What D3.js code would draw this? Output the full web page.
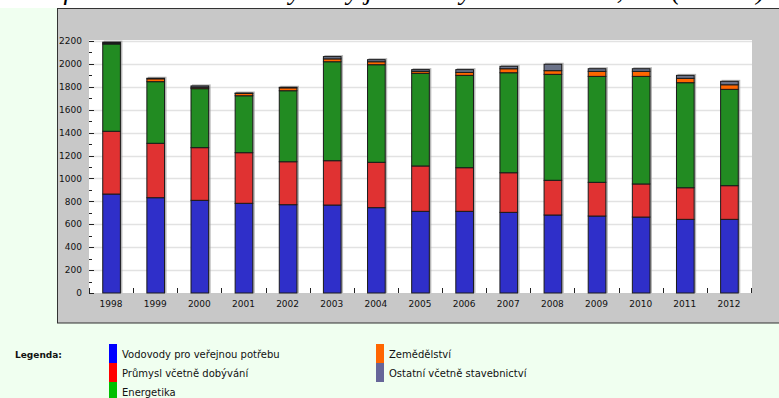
<!DOCTYPE html>
<html><head><meta charset="utf-8">
<script src="https://cdn.jsdelivr.net/npm/d3@7"></script>
<style>
html,body{margin:0;padding:0;background:#fff;}
svg{display:block;}
</style></head>
<body>
<svg id="c" width="779" height="398"></svg>
<script>
const years = ["1998","1999","2000","2001","2002","2003","2004","2005","2006","2007","2008","2009","2010","2011","2012"];
const vodovody = [864, 832, 809, 783, 771, 768, 745, 713, 713, 704, 681, 672, 663, 643, 643];
const prumysl  = [548, 475, 460, 442, 375, 387, 396, 396, 381, 346, 303, 294, 289, 276, 294];
const energetika = [762, 538, 515, 497, 620, 864, 852, 809, 806, 873, 925, 925, 939, 917, 841];
const zemedelstvi = [8, 25, 12, 20, 25, 25, 26, 17, 26, 35, 32, 44, 44, 38, 40];
const ostatni = [8, 5, 12, 4, 5, 20, 18, 15, 24, 21, 56, 23, 23, 26, 30];
const seriesNames = ["Vodovody pro veřejnou potřebu","Průmysl včetně dobývání","Energetika","Zemědělství","Ostatní včetně stavebnictví"];
const yTicks = [0,200,400,600,800,1000,1200,1400,1600,1800,2000,2200];
const titleText = "Graf č. 1: Celkové odběry vody jednotlivými odběrateli, ČR (mil. m³)";

const barColors = ["#2f2fc9","#e03232","#228b22","#ff6600","#6b7288"];
const legendColors = ["#0000ff","#ff0000","#00c000","#ff6600","#666699"];

const svg = d3.select("#c");
const font = "DejaVu Sans, Verdana, sans-serif";

// backgrounds
svg.append("rect").attr("x",0).attr("y",8).attr("width",779).attr("height",390).attr("fill","#f0fff0");
svg.append("text").attr("x",20).attr("y",-1.5).attr("font-family","Liberation Serif, Times New Roman, serif")
  .attr("font-style","italic").attr("font-size",27).attr("fill","#000").text(titleText);
svg.append("rect").attr("x",57.5).attr("y",8.5).attr("width",730).attr("height",314.5)
  .attr("fill","#c8c8c8").attr("stroke","#333").attr("stroke-width",1);

const x = d3.scaleBand().domain(years).range([89,751]).paddingInner(0.6).paddingOuter(0.3);
const y = d3.scaleLinear().domain([0,2200]).range([293,41]);

svg.append("rect").attr("x",89).attr("y",40).attr("width",663).attr("height",253).attr("fill","#fff");

// gridlines
svg.append("g").selectAll("line").data(yTicks.filter(d=>d>0)).join("line")
  .attr("x1",89).attr("x2",752).attr("y1",d=>Math.round(y(d))+0.5).attr("y2",d=>Math.round(y(d))+0.5)
  .attr("stroke","#e2e2e2").attr("stroke-width",1.5);

// stacked data
const table = years.map((yr,i)=>({year:yr, s0:vodovody[i], s1:prumysl[i], s2:energetika[i], s3:zemedelstvi[i], s4:ostatni[i]}));
const keys = ["s0","s1","s2","s3","s4"];
const stacked = d3.stack().keys(keys)(table);
const total = d => d.s0+d.s1+d.s2+d.s3+d.s4;

// shadows
svg.append("g").selectAll("rect").data(table).join("rect")
  .attr("x",d=>x(d.year)+1.5).attr("y",d=>y(total(d))-1.5)
  .attr("width",x.bandwidth()+1).attr("height",d=>293-y(total(d))+1.5)
  .attr("fill","#999").attr("opacity",0.7);

const bw = x.bandwidth();
svg.append("g").selectAll("g").data(stacked).join("g")
  .attr("fill",(d,i)=>barColors[i])
  .selectAll("rect").data(d=>d).join("rect")
  .attr("x",d=>x(d.data.year)+0.5)
  .attr("y",d=>y(d[1]))
  .attr("width",bw)
  .attr("height",d=>Math.max(0,y(d[0])-y(d[1])))
  .attr("stroke","#1a1a1a").attr("stroke-width",1);

// y axis (inside ticks)
const ya = svg.append("g");
ya.selectAll("line").data(d3.range(0,2201,100)).join("line")
  .attr("x1",89).attr("x2",d=>d%200===0?94:92)
  .attr("y1",d=>Math.round(y(d))+0.5).attr("y2",d=>Math.round(y(d))+0.5)
  .attr("stroke","#222").attr("stroke-width",1);
ya.selectAll("text").data(yTicks).join("text")
  .attr("x",82).attr("y",d=>y(d)).attr("dy","0.35em").attr("text-anchor","end")
  .attr("font-family",font).attr("font-size",9).attr("fill","#111").text(d=>d);

// x axis ticks at band boundaries
const bounds = years.map(d=>x(d)-x.step()*x.paddingInner()/2).concat([751]);
bounds[0] = 89;
svg.append("g").selectAll("line").data(bounds).join("line")
  .attr("x1",d=>Math.round(d)+0.5).attr("x2",d=>Math.round(d)+0.5)
  .attr("y1",288).attr("y2",293).attr("stroke","#222");
svg.append("g").selectAll("text").data(years).join("text")
  .attr("x",d=>x(d)+bw/2).attr("y",307).attr("text-anchor","middle")
  .attr("font-family",font).attr("font-size",9).attr("fill","#111").text(d=>d);

// legend
svg.append("text").attr("x",15).attr("y",358).attr("font-family",font).attr("font-size",9)
  .attr("font-weight","bold").attr("fill","#111").text("Legenda:");
const legPos = [[109,344],[109,363],[109,382],[376,344],[376,363]];
const lg = svg.append("g");
seriesNames.forEach((n,i)=>{
  const [lx,ly] = legPos[i];
  lg.append("rect").attr("x",lx).attr("y",ly).attr("width",8).attr("height",19).attr("fill",legendColors[i]);
  lg.append("text").attr("x",lx+13).attr("y",ly+14).attr("font-family",font).attr("font-size",10)
    .attr("fill","#111").text(n);
});
</script>
</body></html>
